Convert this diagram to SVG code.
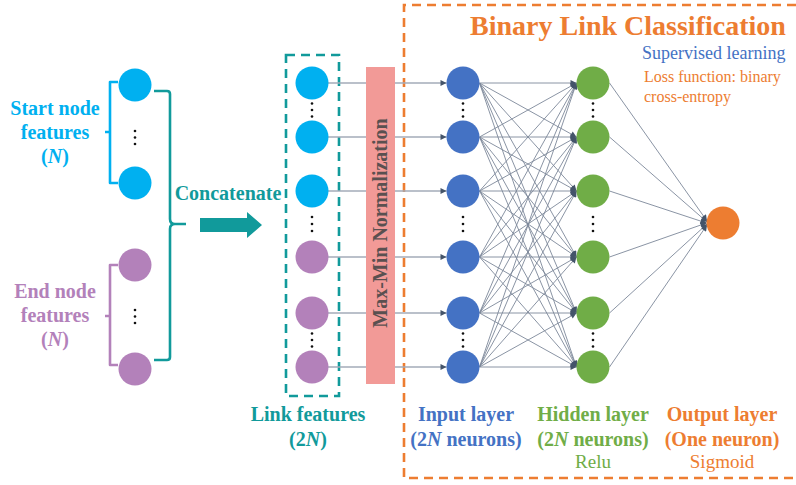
<svg xmlns="http://www.w3.org/2000/svg" width="796" height="485" viewBox="0 0 796 485">
  <defs>
    <style>
      .b { font-family: "Liberation Serif", "Times New Roman", serif; font-weight: bold; font-size: 20px; text-anchor: middle; }
      .r { font-family: "Liberation Serif", "Times New Roman", serif; font-size: 19px; text-anchor: middle; }
      .cyan { fill: #00B0F0; }
      .purple { fill: #B381BA; }
      .teal { fill: #119A9B; }
      .blue { fill: #4472C4; }
      .green { fill: #70AD47; }
      .orange { fill: #ED7D31; }
      .dot { fill: #111; }
      .feed { stroke: #A3ABB8; stroke-width: 1.4; fill: none; }
      .dense { stroke: #7D889A; stroke-width: 0.9; fill: none; }
      .brk { fill: none; stroke-width: 2.6; stroke-linejoin: round; }
    </style>
    <marker id="ah" viewBox="0 0 10 10" refX="10" refY="5" markerWidth="7" markerHeight="6" markerUnits="userSpaceOnUse" orient="auto">
      <path d="M0,0 L10,5 L0,10 z" fill="#44546A"/>
    </marker>
  </defs>

  <!-- frames -->
  <path d="M796,5 H404 V478 H796" fill="none" stroke="#ED7D31" stroke-width="2.6" stroke-dasharray="9,6"/>
  <rect x="286" y="55" width="53" height="341" fill="none" stroke="#119A9B" stroke-width="2.6" stroke-dasharray="9,6"/>

  <!-- connectors -->
  <g id="connectors">
    <!-- link features to input layer -->
    <g class="feed" marker-end="url(#ah)">
      <line x1="328" y1="83" x2="446.5" y2="83"/>
      <line x1="328" y1="137" x2="446.5" y2="137"/>
      <line x1="328" y1="191" x2="446.5" y2="191"/>
      <line x1="328" y1="257" x2="446.5" y2="257"/>
      <line x1="328" y1="313" x2="446.5" y2="313"/>
      <line x1="328" y1="367" x2="446.5" y2="367"/>
    </g>
    <!-- input layer to hidden layer -->
    <g class="dense" marker-end="url(#ah)">
      <line x1="479.5" y1="83" x2="576.5" y2="83"/>
      <line x1="479.5" y1="83" x2="576.5" y2="137"/>
      <line x1="479.5" y1="83" x2="576.5" y2="191"/>
      <line x1="479.5" y1="83" x2="576.5" y2="257"/>
      <line x1="479.5" y1="83" x2="576.5" y2="313"/>
      <line x1="479.5" y1="83" x2="576.5" y2="367"/>
      <line x1="479.5" y1="137" x2="576.5" y2="83"/>
      <line x1="479.5" y1="137" x2="576.5" y2="137"/>
      <line x1="479.5" y1="137" x2="576.5" y2="191"/>
      <line x1="479.5" y1="137" x2="576.5" y2="257"/>
      <line x1="479.5" y1="137" x2="576.5" y2="313"/>
      <line x1="479.5" y1="137" x2="576.5" y2="367"/>
      <line x1="479.5" y1="191" x2="576.5" y2="83"/>
      <line x1="479.5" y1="191" x2="576.5" y2="137"/>
      <line x1="479.5" y1="191" x2="576.5" y2="191"/>
      <line x1="479.5" y1="191" x2="576.5" y2="257"/>
      <line x1="479.5" y1="191" x2="576.5" y2="313"/>
      <line x1="479.5" y1="191" x2="576.5" y2="367"/>
      <line x1="479.5" y1="257" x2="576.5" y2="83"/>
      <line x1="479.5" y1="257" x2="576.5" y2="137"/>
      <line x1="479.5" y1="257" x2="576.5" y2="191"/>
      <line x1="479.5" y1="257" x2="576.5" y2="257"/>
      <line x1="479.5" y1="257" x2="576.5" y2="313"/>
      <line x1="479.5" y1="257" x2="576.5" y2="367"/>
      <line x1="479.5" y1="313" x2="576.5" y2="83"/>
      <line x1="479.5" y1="313" x2="576.5" y2="137"/>
      <line x1="479.5" y1="313" x2="576.5" y2="191"/>
      <line x1="479.5" y1="313" x2="576.5" y2="257"/>
      <line x1="479.5" y1="313" x2="576.5" y2="313"/>
      <line x1="479.5" y1="313" x2="576.5" y2="367"/>
      <line x1="479.5" y1="367" x2="576.5" y2="83"/>
      <line x1="479.5" y1="367" x2="576.5" y2="137"/>
      <line x1="479.5" y1="367" x2="576.5" y2="191"/>
      <line x1="479.5" y1="367" x2="576.5" y2="257"/>
      <line x1="479.5" y1="367" x2="576.5" y2="313"/>
      <line x1="479.5" y1="367" x2="576.5" y2="367"/>
    </g>
    <!-- hidden layer to output -->
    <g class="dense" marker-end="url(#ah)">
      <line x1="609.5" y1="83" x2="707" y2="221"/>
      <line x1="609.5" y1="137" x2="707" y2="222"/>
      <line x1="609.5" y1="191" x2="706.5" y2="223"/>
      <line x1="609.5" y1="257" x2="706.5" y2="223"/>
      <line x1="609.5" y1="313" x2="707" y2="224"/>
      <line x1="609.5" y1="367" x2="707" y2="225"/>
    </g>
  </g>

  <!-- normalization bar -->
  <g id="normalization">
    <rect x="366" y="67" width="29" height="317" fill="#F29A97"/>
    <text class="b" transform="translate(387,223) rotate(-90)" fill="#5A5050">Max-Min Normalization</text>
  </g>

  <!-- start / end node features -->
  <g id="start-nodes">
    <circle class="cyan" cx="135" cy="85" r="16.5"/>
    <circle class="cyan" cx="135" cy="183" r="16.5"/>
    <circle class="dot" cx="135" cy="131" r="1.3"/>
    <circle class="dot" cx="135" cy="137.5" r="1.3"/>
    <circle class="dot" cx="135" cy="144" r="1.3"/>
    <path class="brk" stroke="#00B0F0" d="M118,82 H110 V183 H118 M110,132 H105"/>
    <text class="b cyan" x="55" y="115">Start node</text>
    <text class="b cyan" x="55" y="139">features</text>
    <text class="b cyan" x="55" y="163">(<tspan font-style="italic">N</tspan>)</text>
  </g>
  <g id="end-nodes">
    <circle class="purple" cx="135" cy="265" r="16.5"/>
    <circle class="purple" cx="135" cy="369" r="16.5"/>
    <circle class="dot" cx="135" cy="310" r="1.3"/>
    <circle class="dot" cx="135" cy="316.5" r="1.3"/>
    <circle class="dot" cx="135" cy="323" r="1.3"/>
    <path class="brk" stroke="#B381BA" d="M118,265 H110 V365 H118 M110,316 H105"/>
    <text class="b purple" x="55" y="298">End node</text>
    <text class="b purple" x="55" y="322">features</text>
    <text class="b purple" x="55" y="346">(<tspan font-style="italic">N</tspan>)</text>
  </g>

  <!-- concatenation -->
  <g id="concatenate">
    <path class="brk" stroke="#119A9B" d="M154,91 H167 Q170,91 170,94 V219 Q170,224 175,224 H186 M175,224 Q170,224 170,229 V357 Q170,360 167,360 H154"/>
    <text class="b teal" x="228" y="200">Concatenate</text>
    <path fill="#119A9B" d="M200,218 H247 V212 L262,225 L247,238 V232 H200 z"/>
  </g>

  <!-- link features -->
  <g id="link-features">
    <circle class="cyan" cx="312" cy="83" r="16.5"/>
    <circle class="cyan" cx="312" cy="137" r="16.5"/>
    <circle class="cyan" cx="312" cy="191" r="16.5"/>
    <circle class="purple" cx="312" cy="257" r="16.5"/>
    <circle class="purple" cx="312" cy="313" r="16.5"/>
    <circle class="purple" cx="312" cy="367" r="16.5"/>
    <circle class="dot" cx="312" cy="103.5" r="1.3"/>
    <circle class="dot" cx="312" cy="110" r="1.3"/>
    <circle class="dot" cx="312" cy="116.5" r="1.3"/>
    <circle class="dot" cx="312" cy="217" r="1.3"/>
    <circle class="dot" cx="312" cy="224" r="1.3"/>
    <circle class="dot" cx="312" cy="231" r="1.3"/>
    <circle class="dot" cx="312" cy="333.5" r="1.3"/>
    <circle class="dot" cx="312" cy="340" r="1.3"/>
    <circle class="dot" cx="312" cy="346.5" r="1.3"/>
    <text class="b teal" x="308" y="421">Link features</text>
    <text class="b teal" x="308" y="446">(2<tspan font-style="italic">N</tspan>)</text>
  </g>

  <!-- input layer -->
  <g id="input-layer">
    <circle class="blue" cx="463" cy="83" r="16.5"/>
    <circle class="blue" cx="463" cy="137" r="16.5"/>
    <circle class="blue" cx="463" cy="191" r="16.5"/>
    <circle class="blue" cx="463" cy="257" r="16.5"/>
    <circle class="blue" cx="463" cy="313" r="16.5"/>
    <circle class="blue" cx="463" cy="367" r="16.5"/>
    <circle class="dot" cx="463" cy="103.5" r="1.3"/>
    <circle class="dot" cx="463" cy="110" r="1.3"/>
    <circle class="dot" cx="463" cy="116.5" r="1.3"/>
    <circle class="dot" cx="463" cy="217" r="1.3"/>
    <circle class="dot" cx="463" cy="224" r="1.3"/>
    <circle class="dot" cx="463" cy="231" r="1.3"/>
    <circle class="dot" cx="463" cy="333.5" r="1.3"/>
    <circle class="dot" cx="463" cy="340" r="1.3"/>
    <circle class="dot" cx="463" cy="346.5" r="1.3"/>
    <text class="b blue" x="466" y="421">Input layer</text>
    <text class="b blue" x="466" y="446">(2<tspan font-style="italic">N</tspan> neurons)</text>
  </g>

  <!-- hidden layer -->
  <g id="hidden-layer">
    <circle class="green" cx="593" cy="83" r="16.5"/>
    <circle class="green" cx="593" cy="137" r="16.5"/>
    <circle class="green" cx="593" cy="191" r="16.5"/>
    <circle class="green" cx="593" cy="257" r="16.5"/>
    <circle class="green" cx="593" cy="313" r="16.5"/>
    <circle class="green" cx="593" cy="367" r="16.5"/>
    <circle class="dot" cx="593" cy="103.5" r="1.3"/>
    <circle class="dot" cx="593" cy="110" r="1.3"/>
    <circle class="dot" cx="593" cy="116.5" r="1.3"/>
    <circle class="dot" cx="593" cy="217" r="1.3"/>
    <circle class="dot" cx="593" cy="224" r="1.3"/>
    <circle class="dot" cx="593" cy="231" r="1.3"/>
    <circle class="dot" cx="593" cy="333.5" r="1.3"/>
    <circle class="dot" cx="593" cy="340" r="1.3"/>
    <circle class="dot" cx="593" cy="346.5" r="1.3"/>
    <text class="b green" x="593" y="421">Hidden layer</text>
    <text class="b green" x="593" y="446">(2<tspan font-style="italic">N</tspan> neurons)</text>
    <text class="r green" x="593" y="468">Relu</text>
  </g>

  <!-- output layer -->
  <g id="output-layer">
    <circle class="orange" cx="723" cy="223" r="16.5"/>
    <text class="b orange" x="722" y="421">Output layer</text>
    <text class="b orange" x="722" y="446">(One neuron)</text>
    <text class="r orange" x="722" y="468">Sigmoid</text>
  </g>

  <!-- classification header -->
  <g id="classification">
    <text class="b orange" x="470" y="35" style="font-size:28px;text-anchor:start">Binary Link Classification</text>
    <text class="r blue" x="642" y="59" style="font-size:18px;text-anchor:start">Supervised learning</text>
    <text class="r orange" x="644" y="82" style="font-size:16px;text-anchor:start">Loss function: binary</text>
    <text class="r orange" x="644" y="102" style="font-size:16px;text-anchor:start">cross-entropy</text>
  </g>
</svg>
